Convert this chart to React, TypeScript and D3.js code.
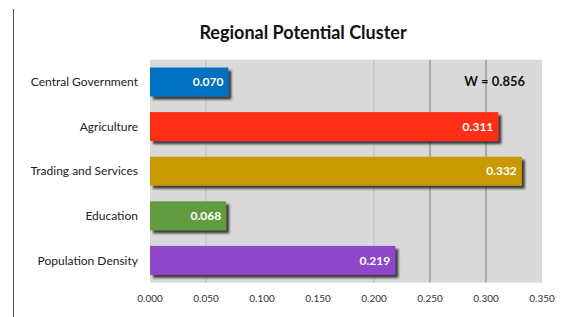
import * as d3 from "d3";

const categories = ["Central Government", "Agriculture", "Trading and Services", "Education", "Population Density"];
const values = [0.07, 0.311, 0.332, 0.068, 0.219];
const colors = ["#0070c0", "#ff2d19", "#c89900", "#629b3f", "#8e46c8"];
const ticks = [0, 0.05, 0.1, 0.15, 0.2, 0.25, 0.3, 0.35];
const lightGrid = [0.05, 0.2];
const darkGrid = [0.25, 0.3];
const title = "Regional Potential Cluster";
const note = "W = 0.856";

const W = 572;
const H = 317;
const font = "Lato, 'Open Sans', sans-serif";

export default function App() {
  const x = d3.scaleLinear().domain([0, 0.35]).range([150, 542]);
  const y = d3
    .scaleBand<string>()
    .domain(categories)
    .range([59.7, 282.7])
    .paddingInner(0.35)
    .paddingOuter(0.175);
  const fmt = d3.format(".3f");

  return (
    <svg
      width={W}
      height={H}
      style={{ position: "absolute", left: 0, top: 0, background: "#fff" }}
      fontFamily={font}
    >
      <defs>
        <filter id="shadow" x="-10%" y="-20%" width="130%" height="160%">
          <feDropShadow dx="3" dy="3" stdDeviation="1" floodColor="#222" floodOpacity="0.85" />
        </filter>
      </defs>

      {/* left frame line */}
      <line x1={13.5} x2={13.5} y1={9} y2={H} stroke="#555" strokeWidth={1} />

      <text x={303} y={39} textAnchor="middle" fontSize={18} fontWeight="bold" fill="#111">
        {title}
      </text>

      {/* plot area */}
      <rect x={x(0)} y={59.7} width={x(0.35) - x(0)} height={223} fill="#d9d9d9" />
      {lightGrid.map((v) => (
        <line key={"l" + v} x1={x(v)} x2={x(v)} y1={59.7} y2={282.7} stroke="#bcbcbc" strokeWidth={1} />
      ))}
      {darkGrid.map((v) => (
        <line key={"d" + v} x1={x(v)} x2={x(v)} y1={59.7} y2={282.7} stroke="#7a7a7a" strokeWidth={1} />
      ))}

      {categories.map((c, i) => (
        <g key={c}>
          <rect
            x={x(0)}
            y={y(c)}
            width={x(values[i]) - x(0)}
            height={y.bandwidth()}
            fill={colors[i]}
            filter="url(#shadow)"
          />
          <text
            x={x(values[i]) - 5}
            y={(y(c) ?? 0) + y.bandwidth() / 2}
            dy="0.35em"
            textAnchor="end"
            fontSize={12}
            fontWeight="bold"
            fill="#fff"
          >
            {fmt(values[i])}
          </text>
          <text
            x={138}
            y={(y(c) ?? 0) + y.bandwidth() / 2}
            dy="0.35em"
            textAnchor="end"
            fontSize={12}
            fill="#222"
          >
            {c}
          </text>
        </g>
      ))}

      <text x={525} y={81} dy="0.35em" textAnchor="end" fontSize={13} fontWeight="bold" fill="#111">
        {note}
      </text>

      {ticks.map((t) => (
        <text key={t} x={x(t)} y={298} dy="0.35em" textAnchor="middle" fontSize={10} fill="#333">
          {fmt(t)}
        </text>
      ))}
    </svg>
  );
}
